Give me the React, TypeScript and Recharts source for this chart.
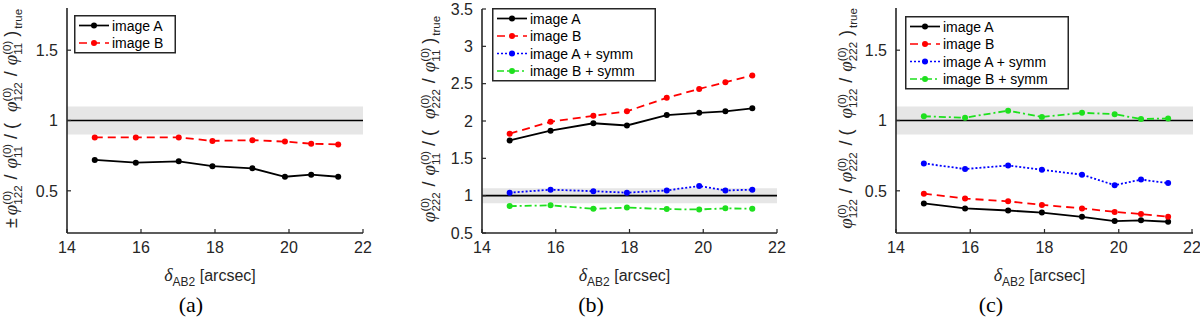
import { Legend, Line, LineChart, ReferenceArea, ReferenceLine, XAxis, YAxis } from "recharts";

// angular separation of the images, shared by all panels
const separation = [14.75, 15.86, 17.02, 17.93, 19.01, 19.89, 20.6, 21.33];

// panel (a)
const aImageA = [0.72, 0.7, 0.71, 0.675, 0.66, 0.6, 0.615, 0.6];
const aImageB = [0.88, 0.88, 0.88, 0.855, 0.86, 0.85, 0.835, 0.83];

// panel (b)
const bImageA = [1.74, 1.87, 1.97, 1.94, 2.08, 2.11, 2.13, 2.17];
const bImageB = [1.83, 1.99, 2.07, 2.13, 2.31, 2.43, 2.52, 2.61];
const bImageASymm = [1.04, 1.08, 1.06, 1.04, 1.07, 1.13, 1.07, 1.08];
const bImageBSymm = [0.86, 0.87, 0.825, 0.84, 0.82, 0.815, 0.83, 0.825];

// panel (c)
const cImageA = [0.41, 0.375, 0.36, 0.345, 0.315, 0.285, 0.29, 0.28];
const cImageB = [0.48, 0.445, 0.425, 0.4, 0.375, 0.35, 0.335, 0.315];
const cImageASymm = [0.695, 0.655, 0.68, 0.65, 0.615, 0.54, 0.58, 0.555];
const cImageBSymm = [1.03, 1.02, 1.07, 1.025, 1.055, 1.045, 1.01, 1.015];

const xTicks = [14, 16, 18, 20, 22];
const yTicksSmall = [0.5, 1, 1.5];
const yTicksLarge = [0.5, 1, 1.5, 2, 2.5, 3, 3.5];

const AXIS = "#262626";
const SANS = "'Liberation Sans', Arial, sans-serif";
const SERIF = "'Liberation Serif', 'Times New Roman', serif";

type SeriesStyle = { name: string; color: string; dash?: string };

const STYLE_A: SeriesStyle = { name: "image A", color: "#000000" };
const STYLE_B: SeriesStyle = { name: "image B", color: "#ff0000", dash: "8 5" };
const STYLE_AS: SeriesStyle = { name: "image A + symm", color: "#0000ff", dash: "2 2" };
const STYLE_BS: SeriesStyle = { name: "image B + symm", color: "#1ee01e", dash: "7 3 2 3" };

type Series = { key: string; style: SeriesStyle; values: number[] };

// label tokens: plain text, phi with (0) superscript + subscript, trailing subscript, or a gap in px
type Tok =
  | { t: "txt"; s: string }
  | { t: "phi"; sub: string }
  | { t: "sub"; s: string }
  | { t: "gap"; w: number };
const txt = (s: string): Tok => ({ t: "txt", s });
const phi = (sub: string): Tok => ({ t: "phi", sub });
const gap = (w: number): Tok => ({ t: "gap", w });

// phi_num / phi_den / ( phi_num / phi_den )_true
const ratioTokens = (num: string, den: string, prefix: Tok[] = []): Tok[] => [
  ...prefix,
  phi(num), gap(6), txt("/"), gap(6), phi(den), gap(7), txt("/"), gap(5), txt("("), gap(11),
  phi(num), gap(6), txt("/"), gap(6), phi(den), gap(6), txt(")"), gap(2), { t: "sub", s: "true" },
];

function XTick({ x, y, payload }: any) {
  return (
    <g>
      <line x1={x} x2={x} y1={y} y2={y - 4} stroke={AXIS} strokeWidth={1.2} />
      <text x={x} y={y + 20} textAnchor="middle" fontSize={16} fill={AXIS} fontFamily={SANS}>
        {payload.value}
      </text>
    </g>
  );
}

function YTick({ x, y, payload }: any) {
  return (
    <g>
      <line x1={x} x2={x + 4} y1={y} y2={y} stroke={AXIS} strokeWidth={1.2} />
      <text x={x - 9} y={y} dy="0.36em" textAnchor="end" fontSize={16} fill={AXIS} fontFamily={SANS}>
        {payload.value}
      </text>
    </g>
  );
}

function RatioLabel({ tokens, cx, cy }: { tokens: Tok[]; cx: number; cy: number }) {
  const FS = 18;
  const SS = 11.5;
  const supW = 1.222 * SS;
  let level = 0;
  let pending = 0;
  const shift = (to: number) => {
    const d = to - level;
    level = to;
    return d;
  };
  const takeGap = () => {
    const g = pending;
    pending = 0;
    return g;
  };
  const spans: any[] = [];
  tokens.forEach((tok, i) => {
    if (tok.t === "gap") {
      pending += tok.w;
    } else if (tok.t === "txt") {
      spans.push(<tspan key={i} dx={takeGap()} dy={shift(0)} fontSize={FS}>{tok.s}</tspan>);
    } else if (tok.t === "phi") {
      spans.push(
        <tspan key={i + "p"} dx={takeGap()} dy={shift(0)} fontSize={FS + 1} fontStyle="italic" fontFamily={SERIF}>φ</tspan>,
        <tspan key={i + "s"} dy={shift(-6)} fontSize={SS}>(0)</tspan>,
        <tspan key={i + "b"} dx={-supW} dy={shift(5)} fontSize={SS}>{tok.sub}</tspan>
      );
    } else {
      spans.push(<tspan key={i} dx={takeGap()} dy={shift(5)} fontSize={SS}>{tok.s}</tspan>);
    }
  });
  return (
    <text
      x={cx}
      y={cy}
      transform={`rotate(-90 ${cx} ${cy})`}
      textAnchor="middle"
      fill={AXIS}
      fontFamily={SANS}
      style={{ whiteSpace: "pre" }}
    >
      {spans}
    </text>
  );
}

function XLabel({ viewBox }: any) {
  const cx = viewBox.x + viewBox.width / 2 - 5;
  const y = viewBox.y + 48;
  return (
    <text x={cx} y={y} textAnchor="middle" fill={AXIS} fontFamily={SANS} fontSize={16} style={{ whiteSpace: "pre" }}>
      <tspan fontStyle="italic" fontFamily={SERIF} fontSize={18}>δ</tspan>
      <tspan dy={5} fontSize={12}>AB2</tspan>
      <tspan dy={-5}> [arcsec]</tspan>
    </text>
  );
}

function LegendBox({ series }: { series: Series[] }) {
  const w = series.length > 2 ? 164 : 102;
  const h = 21 + (series.length - 1) * 17.5;
  return (
    <svg width={w} height={h} style={{ display: "block" }}>
      <rect x={0.75} y={0.75} width={w - 1.5} height={h - 1.5} fill="#fff" stroke={AXIS} strokeWidth={1.5} />
      {series.map((s, i) => {
        const y = 10.5 + i * 17.5;
        return (
          <g key={s.key}>
            <line x1={5} x2={35} y1={y} y2={y} stroke={s.style.color} strokeWidth={1.7} strokeDasharray={s.style.dash} />
            <circle cx={20} cy={y} r={3} fill={s.style.color} />
            <text x={38} y={y} dy="0.36em" fontSize={14} fill="#000" fontFamily={SANS}>
              {s.style.name}
            </text>
          </g>
        );
      })}
    </svg>
  );
}

type PanelProps = {
  left: number;
  yWidth: number;
  top: number;
  right: number;
  xHeight: number;
  yDomain: [number, number];
  yTicks: number[];
  series: Series[];
  legendPos: { left: number; top: number };
  label: Tok[];
  labelX: number;
  caption: string;
};

function Panel(p: PanelProps) {
  const data = separation.map((x, i) => {
    const row: Record<string, number> = { x };
    p.series.forEach((s) => (row[s.key] = s.values[i]));
    return row;
  });
  const plotTop = p.top;
  const plotBottom = 319 - p.xHeight;
  return (
    <div style={{ position: "absolute", left: p.left, top: 0, width: 400, height: 319 }}>
      <LineChart width={400} height={319} data={data} margin={{ top: p.top, right: p.right, bottom: 0, left: 0 }}>
        <ReferenceArea y1={0.9} y2={1.1} fill="#e6e6e6" fillOpacity={1} stroke="none" />
        <ReferenceLine y={1} stroke="#000" strokeWidth={1.6} />
        <XAxis
          dataKey="x"
          type="number"
          domain={[14, 22]}
          ticks={xTicks}
          height={p.xHeight}
          tickSize={0}
          tickMargin={0}
          tick={<XTick />}
          axisLine={{ stroke: AXIS, strokeWidth: 1.6 }}
          label={<XLabel />}
        />
        <YAxis
          type="number"
          domain={p.yDomain}
          ticks={p.yTicks}
          width={p.yWidth}
          allowDataOverflow
          tickSize={0}
          tickMargin={0}
          tick={<YTick />}
          axisLine={{ stroke: AXIS, strokeWidth: 1.6 }}
          label={<RatioLabel tokens={p.label} cx={p.labelX} cy={(plotTop + plotBottom) / 2 - 2} />}
        />
        {p.series.map((s) => (
          <Line
            key={s.key}
            dataKey={s.key}
            name={s.style.name}
            stroke={s.style.color}
            strokeWidth={1.8}
            strokeDasharray={s.style.dash}
            dot={{ r: 3, fill: s.style.color, stroke: "none" }}
            activeDot={false}
            isAnimationActive={false}
          />
        ))}
        <Legend
          layout="vertical"
          align="center"
          verticalAlign="middle"
          content={() => <LegendBox series={p.series} />}
          wrapperStyle={{ left: p.legendPos.left, top: p.legendPos.top, width: "auto", height: "auto" }}
        />
      </LineChart>
      <div
        style={{
          position: "absolute",
          left: 0,
          width: 382,
          top: 292,
          textAlign: "center",
          fontFamily: SERIF,
          fontSize: 22,
          color: "#000",
        }}
      >
        {p.caption}
      </div>
    </div>
  );
}

export default function App() {
  return (
    <div style={{ position: "absolute", left: 0, top: 0, width: 1200, height: 319, background: "#fff", overflow: "hidden" }}>
      <Panel
        left={0}
        yWidth={67}
        top={8}
        right={37}
        xHeight={86}
        yDomain={[0.2, 1.8]}
        yTicks={yTicksSmall}
        series={[
          { key: "a", style: STYLE_A, values: aImageA },
          { key: "b", style: STYLE_B, values: aImageB },
        ]}
        legendPos={{ left: 74, top: 15 }}
        label={ratioTokens("122", "11", [txt("±"), gap(3)])}
        labelX={17}
        caption="(a)"
      />
      <Panel
        left={400}
        yWidth={82}
        top={9}
        right={23}
        xHeight={86}
        yDomain={[0.5, 3.5]}
        yTicks={yTicksLarge}
        series={[
          { key: "a", style: STYLE_A, values: bImageA },
          { key: "b", style: STYLE_B, values: bImageB },
          { key: "as", style: STYLE_AS, values: bImageASymm },
          { key: "bs", style: STYLE_BS, values: bImageBSymm },
        ]}
        legendPos={{ left: 92, top: 8 }}
        label={ratioTokens("222", "11")}
        labelX={35}
        caption="(b)"
      />
      <Panel
        left={800}
        yWidth={96}
        top={8}
        right={7}
        xHeight={86}
        yDomain={[0.2, 1.8]}
        yTicks={yTicksSmall}
        series={[
          { key: "a", style: STYLE_A, values: cImageA },
          { key: "b", style: STYLE_B, values: cImageB },
          { key: "as", style: STYLE_AS, values: cImageASymm },
          { key: "bs", style: STYLE_BS, values: cImageBSymm },
        ]}
        legendPos={{ left: 105, top: 16 }}
        label={ratioTokens("122", "222")}
        labelX={52}
        caption="(c)"
      />
    </div>
  );
}
